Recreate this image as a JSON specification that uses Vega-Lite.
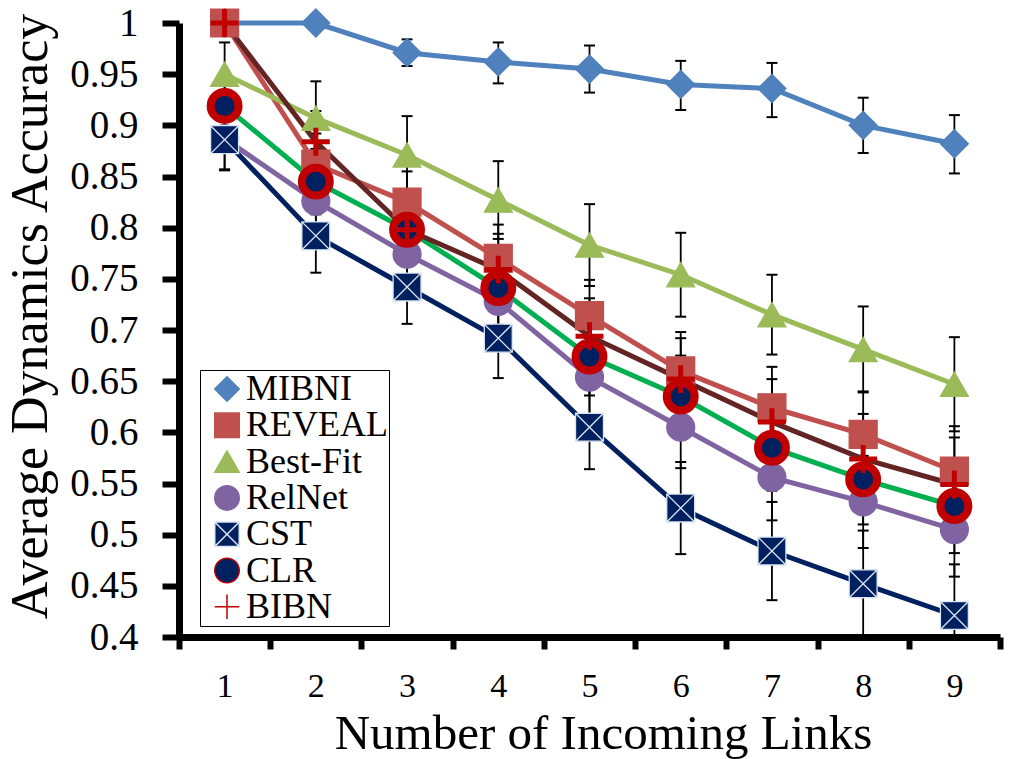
{
  "$schema": "https://vega.github.io/schema/vega-lite/v6.json",
  "autosize": "none",
  "width": 821,
  "height": 614,
  "padding": {"left": 179, "top": 23, "right": 13, "bottom": 122},
  "background": "white",
  "config": {
    "view": {"stroke": null},
    "font": "Liberation Serif",
    "legend": {"labelFont": "Liberation Serif", "labelFontSize": 36, "labelColor": "black"}
  },
  "data": {
    "values": [
      {"series": "MIBNI", "x": 1, "y": 1.0, "lo": 1.0, "hi": 1.0},
      {"series": "MIBNI", "x": 2, "y": 1.0, "lo": 1.0, "hi": 1.0},
      {"series": "MIBNI", "x": 3, "y": 0.971, "lo": 0.958, "hi": 0.984},
      {"series": "MIBNI", "x": 4, "y": 0.962, "lo": 0.941, "hi": 0.981},
      {"series": "MIBNI", "x": 5, "y": 0.955, "lo": 0.932, "hi": 0.978},
      {"series": "MIBNI", "x": 6, "y": 0.940, "lo": 0.915, "hi": 0.963},
      {"series": "MIBNI", "x": 7, "y": 0.936, "lo": 0.908, "hi": 0.961},
      {"series": "MIBNI", "x": 8, "y": 0.900, "lo": 0.873, "hi": 0.927},
      {"series": "MIBNI", "x": 9, "y": 0.882, "lo": 0.853, "hi": 0.910},
      {"series": "REVEAL", "x": 1, "y": 1.0, "lo": 1.0, "hi": 1.0},
      {"series": "REVEAL", "x": 2, "y": 0.862, "lo": 0.832, "hi": 0.892},
      {"series": "REVEAL", "x": 3, "y": 0.825, "lo": 0.795, "hi": 0.855},
      {"series": "REVEAL", "x": 4, "y": 0.770, "lo": 0.737, "hi": 0.803},
      {"series": "REVEAL", "x": 5, "y": 0.714, "lo": 0.679, "hi": 0.749},
      {"series": "REVEAL", "x": 6, "y": 0.660, "lo": 0.622, "hi": 0.698},
      {"series": "REVEAL", "x": 7, "y": 0.624, "lo": 0.584, "hi": 0.664},
      {"series": "REVEAL", "x": 8, "y": 0.598, "lo": 0.556, "hi": 0.640},
      {"series": "REVEAL", "x": 9, "y": 0.562, "lo": 0.518, "hi": 0.606},
      {"series": "Best-Fit", "x": 1, "y": 0.950, "lo": 0.919, "hi": 0.981},
      {"series": "Best-Fit", "x": 2, "y": 0.907, "lo": 0.871, "hi": 0.943},
      {"series": "Best-Fit", "x": 3, "y": 0.871, "lo": 0.833, "hi": 0.909},
      {"series": "Best-Fit", "x": 4, "y": 0.827, "lo": 0.789, "hi": 0.865},
      {"series": "Best-Fit", "x": 5, "y": 0.783, "lo": 0.743, "hi": 0.823},
      {"series": "Best-Fit", "x": 6, "y": 0.754, "lo": 0.713, "hi": 0.795},
      {"series": "Best-Fit", "x": 7, "y": 0.715, "lo": 0.676, "hi": 0.754},
      {"series": "Best-Fit", "x": 8, "y": 0.681, "lo": 0.639, "hi": 0.723},
      {"series": "Best-Fit", "x": 9, "y": 0.647, "lo": 0.601, "hi": 0.693},
      {"series": "RelNet", "x": 1, "y": 0.887, "lo": 0.857, "hi": 0.917},
      {"series": "RelNet", "x": 2, "y": 0.826, "lo": 0.796, "hi": 0.856},
      {"series": "RelNet", "x": 3, "y": 0.774, "lo": 0.742, "hi": 0.806},
      {"series": "RelNet", "x": 4, "y": 0.728, "lo": 0.693, "hi": 0.763},
      {"series": "RelNet", "x": 5, "y": 0.654, "lo": 0.616, "hi": 0.692},
      {"series": "RelNet", "x": 6, "y": 0.605, "lo": 0.565, "hi": 0.645},
      {"series": "RelNet", "x": 7, "y": 0.556, "lo": 0.514, "hi": 0.598},
      {"series": "RelNet", "x": 8, "y": 0.532, "lo": 0.487, "hi": 0.577},
      {"series": "RelNet", "x": 9, "y": 0.505, "lo": 0.459, "hi": 0.551},
      {"series": "CST", "x": 1, "y": 0.886, "lo": 0.856, "hi": 0.916},
      {"series": "CST", "x": 2, "y": 0.792, "lo": 0.756, "hi": 0.828},
      {"series": "CST", "x": 3, "y": 0.742, "lo": 0.706, "hi": 0.778},
      {"series": "CST", "x": 4, "y": 0.692, "lo": 0.653, "hi": 0.731},
      {"series": "CST", "x": 5, "y": 0.605, "lo": 0.564, "hi": 0.646},
      {"series": "CST", "x": 6, "y": 0.526, "lo": 0.481, "hi": 0.571},
      {"series": "CST", "x": 7, "y": 0.484, "lo": 0.436, "hi": 0.532},
      {"series": "CST", "x": 8, "y": 0.452, "lo": 0.400, "hi": 0.504},
      {"series": "CST", "x": 9, "y": 0.421, "lo": 0.400, "hi": 0.471},
      {"series": "CLR", "x": 1, "y": 0.919, "lo": 0.889, "hi": 0.949},
      {"series": "CLR", "x": 2, "y": 0.845, "lo": 0.813, "hi": 0.877},
      {"series": "CLR", "x": 3, "y": 0.798, "lo": 0.764, "hi": 0.832},
      {"series": "CLR", "x": 4, "y": 0.741, "lo": 0.705, "hi": 0.777},
      {"series": "CLR", "x": 5, "y": 0.674, "lo": 0.636, "hi": 0.712},
      {"series": "CLR", "x": 6, "y": 0.635, "lo": 0.595, "hi": 0.675},
      {"series": "CLR", "x": 7, "y": 0.585, "lo": 0.543, "hi": 0.627},
      {"series": "CLR", "x": 8, "y": 0.554, "lo": 0.510, "hi": 0.598},
      {"series": "CLR", "x": 9, "y": 0.528, "lo": 0.482, "hi": 0.574},
      {"series": "BIBN", "x": 1, "y": 1.0, "lo": 1.0, "hi": 1.0},
      {"series": "BIBN", "x": 2, "y": 0.884, "lo": 0.854, "hi": 0.914},
      {"series": "BIBN", "x": 3, "y": 0.798, "lo": 0.766, "hi": 0.830},
      {"series": "BIBN", "x": 4, "y": 0.759, "lo": 0.724, "hi": 0.794},
      {"series": "BIBN", "x": 5, "y": 0.694, "lo": 0.657, "hi": 0.731},
      {"series": "BIBN", "x": 6, "y": 0.652, "lo": 0.612, "hi": 0.692},
      {"series": "BIBN", "x": 7, "y": 0.610, "lo": 0.568, "hi": 0.652},
      {"series": "BIBN", "x": 8, "y": 0.574, "lo": 0.530, "hi": 0.618},
      {"series": "BIBN", "x": 9, "y": 0.549, "lo": 0.503, "hi": 0.595}
    ]
  },
  "encoding": {
    "x": {
      "field": "x",
      "type": "quantitative",
      "scale": {"domain": [0.5, 9.5], "nice": false, "zero": false},
      "axis": {
        "values": [0.5, 1, 1.5, 2, 2.5, 3, 3.5, 4, 4.5, 5, 5.5, 6, 6.5, 7, 7.5, 8, 8.5, 9, 9.5],
        "labelExpr": "datum.value % 1 === 0 ? '' + datum.value : ''",
        "tickOpacity": {"condition": {"test": "datum.value % 1 === 0", "value": 0}, "value": 1},
        "grid": false,
        "domainColor": "black",
        "domainWidth": 7,
        "tickColor": "black",
        "tickWidth": 6,
        "tickSize": 12,
        "labelOverlap": false,
        "labelFlush": false,
        "labelBaseline": "alphabetic",
        "labelPadding": 47,
        "labelFont": "Liberation Serif",
        "labelFontSize": 34,
        "labelColor": "black",
        "title": "Number of Incoming Links",
        "titleFont": "Liberation Serif",
        "titleFontSize": 49,
        "titleFontWeight": "normal",
        "titleColor": "black",
        "titleX": 424,
        "titleY": 111,
        "titleAlign": "center",
        "titleBaseline": "alphabetic"
      }
    },
    "y": {
      "field": "y",
      "type": "quantitative",
      "scale": {"domain": [0.4, 1.0], "nice": false, "zero": false},
      "axis": {
        "values": [0.4, 0.45, 0.5, 0.55, 0.6, 0.65, 0.7, 0.75, 0.8, 0.85, 0.9, 0.95, 1.0],
        "format": ".2~f",
        "grid": false,
        "domainColor": "black",
        "domainWidth": 7,
        "tickColor": "black",
        "tickWidth": 6,
        "tickSize": 17,
        "labelOverlap": false,
        "labelFlush": false,
        "labelPadding": 24,
        "labelFont": "Liberation Serif",
        "labelFontSize": 39,
        "labelColor": "black",
        "title": "Average Dynamics Accuracy",
        "titleFont": "Liberation Serif",
        "titleFontSize": 52,
        "titleFontWeight": "normal",
        "titleColor": "black",
        "titleX": -133,
        "titleY": 293,
        "titleAngle": 270,
        "titleAlign": "center",
        "titleBaseline": "alphabetic"
      }
    }
  },
  "layer": [
    {
      "mark": {"type": "rule", "color": "black", "strokeWidth": 1.8, "clip": true},
      "encoding": {"y": {"field": "lo", "type": "quantitative"}, "y2": {"field": "hi"}}
    },
    {
      "mark": {"type": "tick", "orient": "horizontal", "color": "black", "size": 11, "thickness": 2, "opacity": 1, "clip": true},
      "encoding": {"y": {"field": "lo", "type": "quantitative"}}
    },
    {
      "mark": {"type": "tick", "orient": "horizontal", "color": "black", "size": 11, "thickness": 2, "opacity": 1, "clip": true},
      "encoding": {"y": {"field": "hi", "type": "quantitative"}}
    },
    {
      "mark": {"type": "line", "strokeWidth": 5},
      "encoding": {
        "color": {
          "field": "series",
          "type": "nominal",
          "legend": null,
          "scale": {
            "domain": ["BIBN", "CLR", "CST", "RelNet", "Best-Fit", "REVEAL", "MIBNI"],
            "range": ["#632523", "#00B050", "#002060", "#8064A2", "#9BBB59", "#C0504D", "#4F81BD"]
          }
        },
        "detail": {"field": "series"}
      }
    },
    {
      "mark": {"type": "point", "filled": true, "opacity": 1, "size": 780},
      "encoding": {
        "shape": {
          "field": "series",
          "type": "nominal",
          "scale": {
            "domain": ["MIBNI", "REVEAL", "Best-Fit", "RelNet", "CST", "CLR", "BIBN"],
            "range": ["diamond", "square", "triangle-up", "circle", "M-1,-1H1V1H-1ZM-1,-1L1,1M1,-1L-1,1", "circle", "M-1,0H1M0,-1V1"]
          },
          "legend": {
            "orient": "none",
            "legendX": 21,
            "legendY": 347,
            "title": null,
            "strokeColor": "black",
            "fillColor": "white",
            "padding": 1,
            "symbolOffset": 8,
            "labelOffset": 1,
            "labelFont": "Liberation Serif",
            "labelFontSize": 36,
            "labelColor": "black",
            "labelExpr": "datum.label + '\u00a0\u00a0\u00a0\u00a0'",
            "rowPadding": 0.3,
            "symbolSize": 600,
            "encode": {
              "symbols": {
                "update": {
                  "strokeWidth": {"signal": "datum.value === 'CLR' ? 7 : datum.value === 'BIBN' ? 5 : 1.2"}
                }
              }
            }
          }
        },
        "fill": {
          "field": "series",
          "type": "nominal",
          "scale": {
            "domain": ["MIBNI", "REVEAL", "Best-Fit", "RelNet", "CST", "CLR", "BIBN"],
            "range": ["#4F81BD", "#C0504D", "#9BBB59", "#8064A2", "#002060", "#002060", "#C00000"]
          }
        },
        "stroke": {
          "field": "series",
          "type": "nominal",
          "scale": {
            "domain": ["MIBNI", "REVEAL", "Best-Fit", "RelNet", "CST", "CLR", "BIBN"],
            "range": ["#4F81BD", "#C0504D", "#9BBB59", "#8064A2", "#DCE6F2", "#C00000", "#C00000"]
          }
        },
        "strokeWidth": {
          "condition": [
            {"test": "datum.series === 'CLR'", "value": 8},
            {"test": "datum.series === 'BIBN'", "value": 5}
          ],
          "value": 1.3
        }
      }
    }
  ]
}
